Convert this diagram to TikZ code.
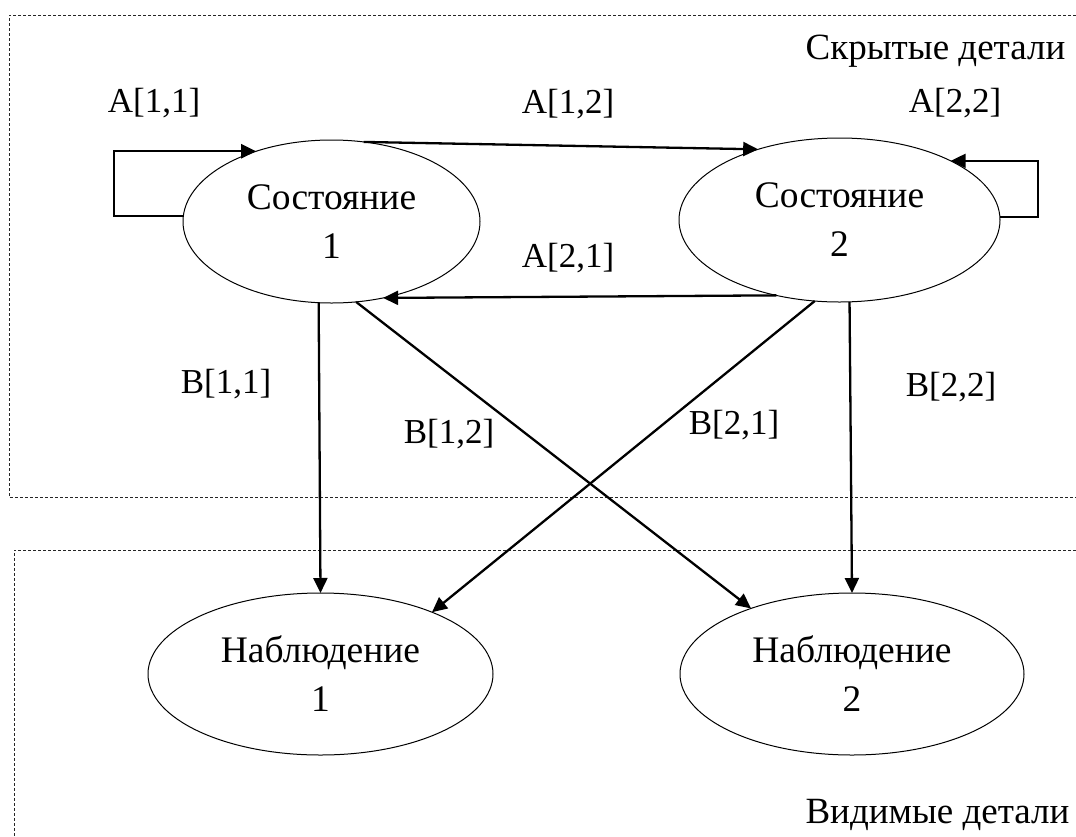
\documentclass[tikz,border=0pt]{standalone}
\usepackage{fontspec}
\setmainfont{Liberation Serif}
\usetikzlibrary{shapes.geometric,arrows.meta}

\tikzset{
  statenode/.style={ellipse, draw, line width=1pt, inner sep=0pt, outer sep=0pt,
    align=center, font=\fontsize{37.5}{49}\selectfont},
  arr/.style={line width=2.3pt, -{Triangle[length=15pt,width=14pt]}},
  frameline/.style={line width=1pt, black!85, dash pattern=on 3pt off 2pt},
  edgelbl/.style={anchor=base, inner sep=0pt, font=\fontsize{35}{40}\selectfont},
  zonelbl/.style={anchor=base, inner sep=0pt, font=\fontsize{37}{44}\selectfont},
}

\begin{document}
\begin{tikzpicture}[x=1pt,y=-1pt]
\useasboundingbox (0,0) rectangle (1076,836);

% hidden and visible zones (open to the right)
\draw[frameline] (1076,15) -- (9,15) -- (9,497) -- (1076,497);
\draw[frameline] (1076,550) -- (14,550) -- (14,836);
\node[zonelbl] (hidden) at (935.5,59) {Скрытые детали};
\node[zonelbl] (visible) at (937.5,823) {Видимые детали};

% states and observations
\node[statenode, minimum width=297pt, minimum height=163pt] (s1) at (331.5,221.5) {Состояние\\1};
\node[statenode, minimum width=321pt, minimum height=164pt] (s2) at (839.5,220) {Состояние\\2};
\node[statenode, minimum width=345pt, minimum height=162pt] (o1) at (320.5,674) {Наблюдение\\1};
\node[statenode, minimum width=344pt, minimum height=162pt] (o2) at (852,674) {Наблюдение\\2};

% transitions between states
\draw[arr] (s1.178) -- ++(-69,0) |- (s1.137);
\draw[arr] (s1.68) -- (s2.139);
\draw[arr] (s2.1) -- ++(38,0) |- (s2.28);
\draw[arr] (s2.230) -- (s1.304);

% emissions
\draw[arr] (s1.261) -- (o1.north);
\draw[arr] (s1.287) -- (o2.147.6);
\draw[arr] (s2.253.6) -- (o1.29.5);
\draw[arr] (s2.277) -- (o2.north);

% labels
\node[edgelbl] (a11) at (154,112) {A[1,1]};
\node[edgelbl] (a12) at (568,113) {A[1,2]};
\node[edgelbl] (a22) at (955,112) {A[2,2]};
\node[edgelbl] (a21) at (568,267) {A[2,1]};
\node[edgelbl] (b11) at (226,393) {B[1,1]};
\node[edgelbl] (b12) at (449,443) {B[1,2]};
\node[edgelbl] (b21) at (734,434) {B[2,1]};
\node[edgelbl] (b22) at (951,396) {B[2,2]};
\end{tikzpicture}
\end{document}
